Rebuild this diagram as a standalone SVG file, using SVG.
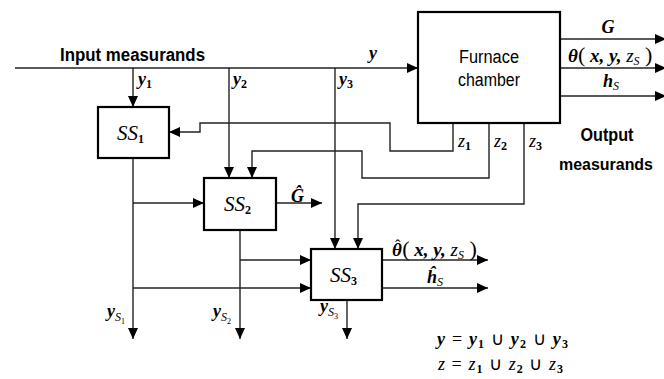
<svg xmlns="http://www.w3.org/2000/svg" width="664" height="379" viewBox="0 0 664 379">
<defs>
<marker id="arr" markerUnits="userSpaceOnUse" markerWidth="11" markerHeight="10" refX="11" refY="5" orient="auto">
<path d="M0,0 L11,5 L0,10 z" fill="#000"/>
</marker>
<style>
.box{fill:#fff;stroke:#000;stroke-width:2.2}
.c{fill:none;stroke:#222;stroke-width:1.4;marker-end:url(#arr)}
.m{font-family:"Liberation Serif","Times New Roman",serif;font-style:italic;font-weight:bold;font-size:18px;fill:#000}
.mr{font-family:"Liberation Serif","Times New Roman",serif;font-style:italic;font-weight:normal;font-size:18px;fill:#000}
.sub{font-style:normal;font-weight:bold;font-size:12px}
.ss{font-style:italic;font-weight:normal;font-size:12px}
.ss2{font-style:normal;font-weight:normal;font-size:8px}
.up{font-style:normal;font-weight:normal}
.s{font-family:"Liberation Sans",Arial,sans-serif;font-size:18px;fill:#000}
.sb{font-family:"Liberation Sans",Arial,sans-serif;font-size:18px;font-weight:bold;fill:#000}
</style>
</defs>
<rect width="664" height="379" fill="#fff"/>
<g id="connectors">
<path class="c" d="M15,68 H418"/>
<path class="c" d="M133,68 V107"/>
<path class="c" d="M229,68 V178"/>
<path class="c" d="M335,68 V249"/>
<path class="c" d="M453,123 V151 H390 V123 H200 V132 H169"/>
<path class="c" d="M489,123 V178 H362 V151 H252 V178"/>
<path class="c" d="M524,123 V204 H358 V249"/>
<path class="c" d="M133,158 V339"/>
<path class="c" d="M133,203 H204"/>
<path class="c" d="M133,288 H311"/>
<path class="c" d="M276,203 H322"/>
<path class="c" d="M240,230 V339"/>
<path class="c" d="M240,260 H311"/>
<path class="c" d="M347,300 V339"/>
<path class="c" d="M382,260 H488"/>
<path class="c" d="M382,288 H488"/>
<path class="c" d="M560,39 H666"/>
<path class="c" d="M560,68 H666"/>
<path class="c" d="M560,96 H666"/>
</g>
<g id="furnace">
<rect class="box" x="418" y="12" width="142" height="111"/>
<text class="s" x="489" y="63" text-anchor="middle" textLength="60" lengthAdjust="spacingAndGlyphs">Furnace</text>
<text class="s" x="489" y="86" text-anchor="middle" textLength="62" lengthAdjust="spacingAndGlyphs">chamber</text>
</g>
<g id="ss1">
<rect class="box" x="98" y="107" width="71" height="51"/>
<text class="m" x="117" y="140" style="font-weight:normal;font-size:21px">SS<tspan class="sub" font-size="14" dy="3">1</tspan></text>
</g>
<g id="ss2">
<rect class="box" x="204" y="178" width="72" height="52"/>
<text class="m" x="224" y="211" style="font-weight:normal;font-size:21px">SS<tspan class="sub" font-size="14" dy="3">2</tspan></text>
</g>
<g id="ss3">
<rect class="box" x="311" y="249" width="71" height="51"/>
<text class="m" x="330" y="282" style="font-weight:normal;font-size:21px">SS<tspan class="sub" font-size="14" dy="3">3</tspan></text>
</g>
<g id="labels">
<text class="sb" x="60" y="61" textLength="145" lengthAdjust="spacingAndGlyphs">Input  measurands</text>
<text class="sb" x="607" y="141" text-anchor="middle" textLength="53" lengthAdjust="spacingAndGlyphs">Output</text>
<text class="sb" x="606" y="170" text-anchor="middle" textLength="94" lengthAdjust="spacingAndGlyphs" style="font-size:17px">measurands</text>
<text class="m" x="369" y="59">y</text>
<text class="m" x="138" y="85">y<tspan class="sub" dy="3">1</tspan></text>
<text class="m" x="233" y="85">y<tspan class="sub" dy="3">2</tspan></text>
<text class="m" x="339" y="85">y<tspan class="sub" dy="3">3</tspan></text>
<text class="m" x="608" y="33" text-anchor="middle">G</text>
<text class="m" x="568" y="62" style="font-size:19px">θ<tspan class="up" font-size="22">(</tspan> x, y, <tspan style="font-weight:normal">z</tspan><tspan class="ss" dy="3">S</tspan><tspan class="up" font-size="22" dy="-3"> )</tspan></text>
<text class="m" x="603" y="87">h<tspan class="ss" dy="3">S</tspan></text>
<text class="mr" x="458" y="147">z<tspan class="sub" dy="3">1</tspan></text>
<text class="mr" x="494" y="147">z<tspan class="sub" dy="3">2</tspan></text>
<text class="mr" x="529" y="147">z<tspan class="sub" dy="3">3</tspan></text>
<text class="m" x="291" y="202">Ĝ</text>
<text class="m" x="392" y="256" style="font-size:19px">θ<tspan class="up" font-size="16" dx="-7" dy="-5">ˆ</tspan><tspan class="up" font-size="22" dx="2" dy="5">(</tspan> x, y, <tspan style="font-weight:normal">z</tspan><tspan class="ss" dy="3">S</tspan><tspan class="up" font-size="22" dy="-3"> )</tspan></text>
<text class="m" x="427" y="283">ĥ<tspan class="ss" dy="3">S</tspan></text>
<text class="m" x="107" y="317">y<tspan class="ss" dy="4">S</tspan><tspan class="ss2" dy="3">1</tspan></text>
<text class="m" x="213" y="317">y<tspan class="ss" dy="4">S</tspan><tspan class="ss2" dy="3">2</tspan></text>
<text class="m" x="320" y="312">y<tspan class="ss" dy="4">S</tspan><tspan class="ss2" dy="3">3</tspan></text>
<text class="m" x="437" y="345" textLength="131">y <tspan class="up">=</tspan> y<tspan class="sub" dy="3">1</tspan><tspan class="up" dy="-3"> ∪ </tspan>y<tspan class="sub" dy="3">2</tspan><tspan class="up" dy="-3"> ∪ </tspan>y<tspan class="sub" dy="3">3</tspan></text>
<text class="mr" x="438" y="370" textLength="125">z <tspan class="up">=</tspan> z<tspan class="sub" dy="3">1</tspan><tspan class="up" dy="-3"> ∪ </tspan>z<tspan class="sub" dy="3">2</tspan><tspan class="up" dy="-3"> ∪ </tspan>z<tspan class="sub" dy="3">3</tspan></text>
</g>
</svg>
